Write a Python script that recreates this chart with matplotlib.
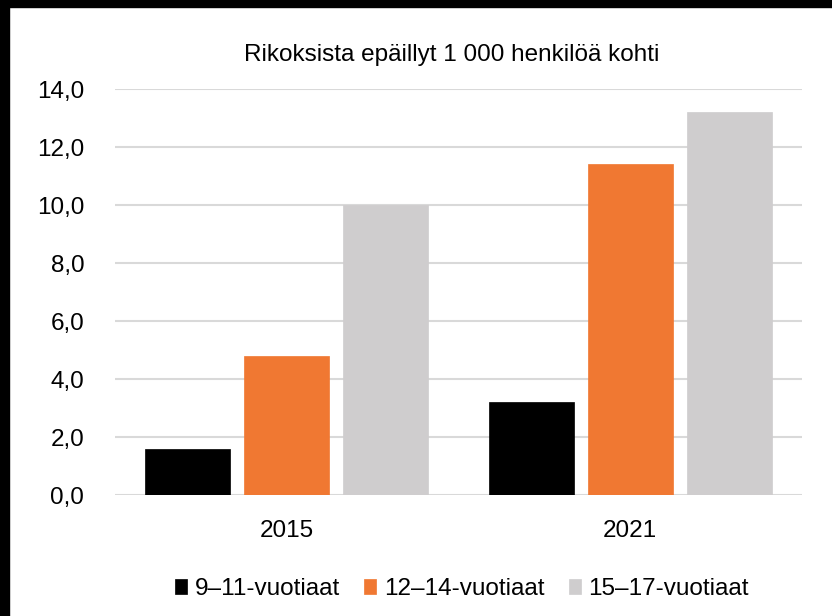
import numpy as np
import matplotlib
matplotlib.use("Agg")
import matplotlib.pyplot as plt
from matplotlib.patches import Rectangle

plt.rcParams['font.family'] = ['Liberation Sans', 'DejaVu Sans']

years = ["2015", "2021"]
groups = ["9\u201311-vuotiaat", "12\u201314-vuotiaat", "15\u201317-vuotiaat"]
age_9_11 = [1.6, 3.2]
age_12_14 = [4.8, 11.4]
age_15_17 = [10.0, 13.2]
colors = ["#000000", "#F07832", "#CFCDCE"]
yticks = [0, 2, 4, 6, 8, 10, 12, 14]

fig = plt.figure(figsize=(8.32, 6.16), dpi=100)
ax = fig.add_axes([0.138, 0.196, 0.826, 0.6595])

x = np.arange(len(years))
width = 0.248
step = 0.288
series = [age_9_11, age_12_14, age_15_17]
for i, (vals, col, lab) in enumerate(zip(series, colors, groups)):
    ax.bar(x + (i - 1) * step, vals, width, color=col, label=lab, zorder=3,
           edgecolor=col, linewidth=0.5)

ax.set_xlim(-0.5, 1.5)
ax.set_ylim(0, 14)
ax.set_yticks(yticks)
ax.set_yticklabels(["{:.1f}".format(v).replace(".", ",") for v in yticks])
ax.set_xticks(x)
ax.set_xticklabels(years)
ax.tick_params(axis='both', length=0, labelsize=17.5)
ax.tick_params(axis='y', pad=22)
ax.tick_params(axis='x', pad=18)
ax.grid(axis='y', color="#d9d9d9", linewidth=1.5, zorder=0)
for s in ax.spines.values():
    s.set_visible(False)

ax.set_title("Rikoksista epäillyt 1 000 henkilöä kohti", fontsize=17.5, pad=20, x=0.49)

ax.legend(loc='upper center', bbox_to_anchor=(0.505, -0.15), ncol=3, frameon=False,
          fontsize=17.5, handlelength=0.5, handleheight=0.6, handletextpad=0.3,
          columnspacing=1.0)

# black frame edges from the screenshot
fig.patches.append(Rectangle((0, 0), 9 / 832, 1, transform=fig.transFigure,
                             color="black", zorder=10))
fig.patches.append(Rectangle((0, 1 - 7 / 616), 1, 7 / 616, transform=fig.transFigure,
                             color="black", zorder=10))

fig.savefig("out.png", dpi=100)
